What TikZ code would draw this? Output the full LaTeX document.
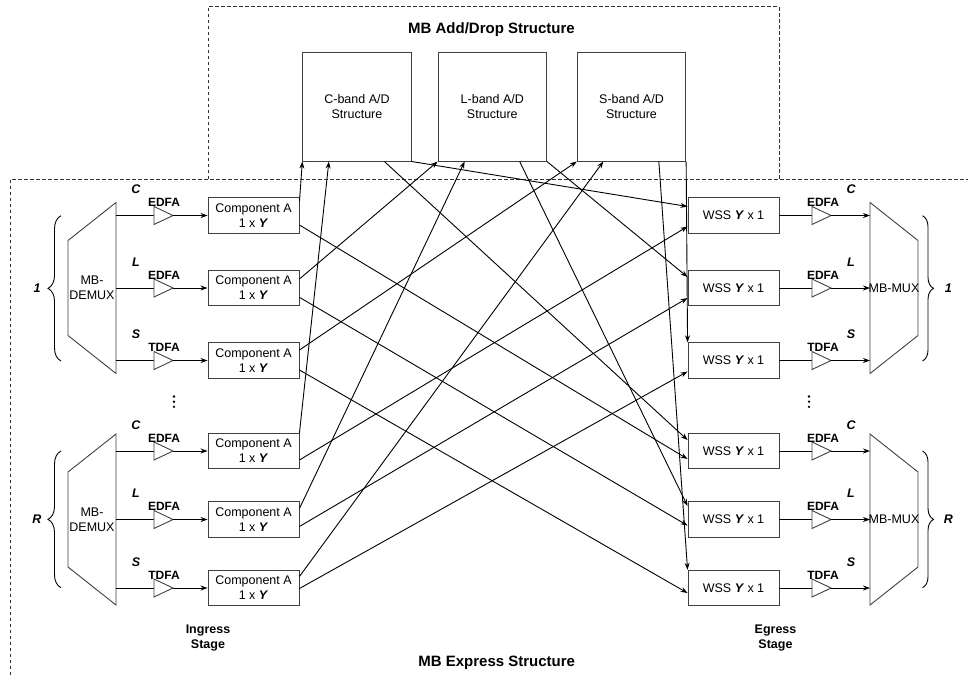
\documentclass[tikz,border=0pt]{standalone}
\usepackage{fontspec}
\setmainfont{Liberation Sans}
\usetikzlibrary{calc,arrows.meta,decorations.pathreplacing}

\begin{document}
\begin{tikzpicture}[x=1pt,y=-1pt,
  txt/.style={font=\fontsize{12.5}{15}\selectfont, inner sep=0pt, align=center},
  box/.style={draw=black!75, line width=0.9pt, inner sep=0pt, align=center,
              font=\fontsize{12.5}{15}\selectfont},
  compbox/.style={box, minimum width=91pt, minimum height=35.5pt},
  adbox/.style={box, minimum width=108.4pt, minimum height=108.3pt},
  outline/.style={draw=black!75, line width=0.9pt},
  sig/.style={draw=black, line width=0.9pt},
  arr/.style={sig, -{Stealth[length=7pt,width=5pt]}},
  frame/.style={draw=black!80, line width=0.8pt, dash pattern=on 3.5pt off 2.5pt},
  title/.style={font=\bfseries\fontsize{15}{18}\selectfont, inner sep=0pt},
  amplbl/.style={font=\bfseries\fontsize{12}{14}\selectfont, inner sep=0pt},
  bandlbl/.style={font=\bfseries\itshape\fontsize{12.5}{15}\selectfont, inner sep=0pt},
  stagelbl/.style={font=\bfseries\fontsize{12.5}{15.7}\selectfont, align=center, inner sep=0pt},
  bracket/.style={sig, decorate},
]
\useasboundingbox (0,0) rectangle (968,675);

% dashed group frames
\draw[frame] (208,179.3) -- (208,6.7) -- (779,6.7) -- (779,179.3);
\draw[frame] (10,675) -- (10,179.3) -- (968,179.3);
\node[title] (adtitle) at (491.5,30) {MB Add/Drop Structure};
\node[title] (extitle) at (496.7,663) {MB Express Structure};

% per-band add/drop blocks
\node[adbox] (adC) at (357,106.9) {C-band A/D\\Structure};
\node[adbox] (adL) at (492.3,106.9) {L-band A/D\\Structure};
\node[adbox] (adS) at (631.5,106.9) {S-band A/D\\Structure};

% demultiplexers (degree 1 and R)
\draw[outline] (68,240.5) -- (116,202.5) -- (116,373.5) -- (68,335.5) -- cycle;
\draw[outline] (68,472) -- (116,434) -- (116,605) -- (68,567) -- cycle;
\node[txt] (dm1) at (92,288) {MB-\\DEMUX};
\node[txt] (dmR) at (92,519.5) {MB-\\DEMUX};

% multiplexers (degree 1 and R)
\draw[outline] (870,202.5) -- (918,240.5) -- (918,335.5) -- (870,373.5) -- cycle;
\draw[outline] (870,434) -- (918,472) -- (918,567) -- (870,605) -- cycle;
\node[txt] (mx1) at (894,288) {MB-MUX};
\node[txt] (mxR) at (894,519.5) {MB-MUX};

% degree braces and labels
\draw[bracket, decoration={brace, amplitude=13pt}] (61,361) -- (61,215.7);
\draw[bracket, decoration={brace, amplitude=13pt}] (61,587.7) -- (61,451);
\draw[bracket, decoration={brace, amplitude=11pt}] (922.5,215.7) -- (922.5,361);
\draw[bracket, decoration={brace, amplitude=11pt}] (922.5,451) -- (922.5,587.7);
\node[bandlbl] (deg1l) at (37,288) {1};
\node[bandlbl] (degRl) at (37,519.5) {R};
\node[bandlbl] (deg1r) at (948.3,288) {1};
\node[bandlbl] (degRr) at (948.3,519.5) {R};

% ingress rows: demux -> amplifier -> component A
\foreach \n/\y/\bd/\am in {C1/215.5/C/EDFA, L1/288/L/EDFA, S1/360.5/S/TDFA,
                           CR/451/C/EDFA, LR/519.5/L/EDFA, SR/588/S/TDFA}{
  \node[compbox] (c\n) at (253.5,\y) {Component A\\1 x \textbf{\textit{Y}}};
  \coordinate (dmo\n) at (116,\y);
  \coordinate (ali\n) at (154,\y);
  \coordinate (alo\n) at (173,\y);
  \draw[sig] (dmo\n) -- (ali\n);
  \draw[outline] (ali\n) ++(0,-9) -- ++(0,18) -- (alo\n) -- cycle;
  \draw[arr] (alo\n) -- (c\n);
  \node[bandlbl] at (136,{\y-26}) {\bd};
  \node[amplbl] at (164,{\y-13}) {\am};
}

% egress rows: WSS -> amplifier -> mux
\foreach \n/\y/\bd/\am in {C1/215.5/C/EDFA, L1/288/L/EDFA, S1/360.5/S/TDFA,
                           CR/451/C/EDFA, LR/519.5/L/EDFA, SR/588/S/TDFA}{
  \node[compbox] (w\n) at (733.5,\y) {WSS \textbf{\textit{Y}} x 1};
  \coordinate (ari\n) at (812,\y);
  \coordinate (aro\n) at (831,\y);
  \coordinate (mxi\n) at (870,\y);
  \draw[sig] (w\n) -- (ari\n);
  \draw[outline] (ari\n) ++(0,-9) -- ++(0,18) -- (aro\n) -- cycle;
  \draw[arr] (aro\n) -- (mxi\n);
  \node[bandlbl] at (851,{\y-26}) {\bd};
  \node[amplbl] at (823,{\y-13}) {\am};
}

% vertical ellipsis between the degrees
\foreach \x in {174,809}{
  \foreach \d in {396.5,401.7,406.9}{
    \fill (\x,\d) circle (1.3pt);
  }
}

% stage captions
\node[stagelbl] (ingress) at (208,638) {Ingress\\Stage};
\node[stagelbl] (egress) at (775.5,638) {Egress\\Stage};

% drop connections: component A -> band A/D
\draw[arr] ($(cC1.east)+(0,-14)$) -- (adC.south west);
\draw[arr] (cCR.north east) -- ($(adC.south west)+(26.5,0)$);
\draw[arr] ($(cL1.east)+(0,-9)$) -- (adL.south west);
\draw[arr] ($(cLR.east)+(0,-11)$) -- ($(adL.south west)+(27,0)$);
\draw[arr] ($(cS1.east)+(0,-10.5)$) -- (adS.south west);
\draw[arr] ($(cSR.east)+(0,-11.5)$) -- ($(adS.south west)+(26.5,0)$);

% express connections: component A -> WSS of the other degree
\draw[arr] ($(cC1.east)+(0,9.5)$) -- ($(wCR.west)+(0,8)$);
\draw[arr] ($(cL1.east)+(0,9.3)$) -- ($(wLR.west)+(0,6)$);
\draw[arr] ($(cS1.east)+(0,9.5)$) -- ($(wSR.west)+(0,5)$);
\draw[arr] ($(cCR.east)+(0,9)$) -- ($(wC1.west)+(0,11)$);
\draw[arr] ($(cLR.east)+(0,7)$) -- ($(wL1.west)+(0,10)$);
\draw[arr] ($(cSR.east)+(0,0.5)$) -- ($(wS1.west)+(0,11)$);

% add connections: band A/D -> WSS
\draw[arr] ($(adC.south west)+(82,0)$) -- ($(wCR.west)+(0,-11)$);
\draw[arr] (adC.south east) -- ($(wC1.west)+(0,-9)$);
\draw[arr] ($(adL.south west)+(82,0)$) -- ($(wLR.west)+(0,-13.5)$);
\draw[arr] (adL.south east) -- ($(wL1.west)+(0,-11)$);
\draw[arr] ($(adS.south west)+(82,0)$) -- (wSR.north west);
\draw[arr] (adS.south east) -- (wS1.north west);
\end{tikzpicture}
\end{document}
